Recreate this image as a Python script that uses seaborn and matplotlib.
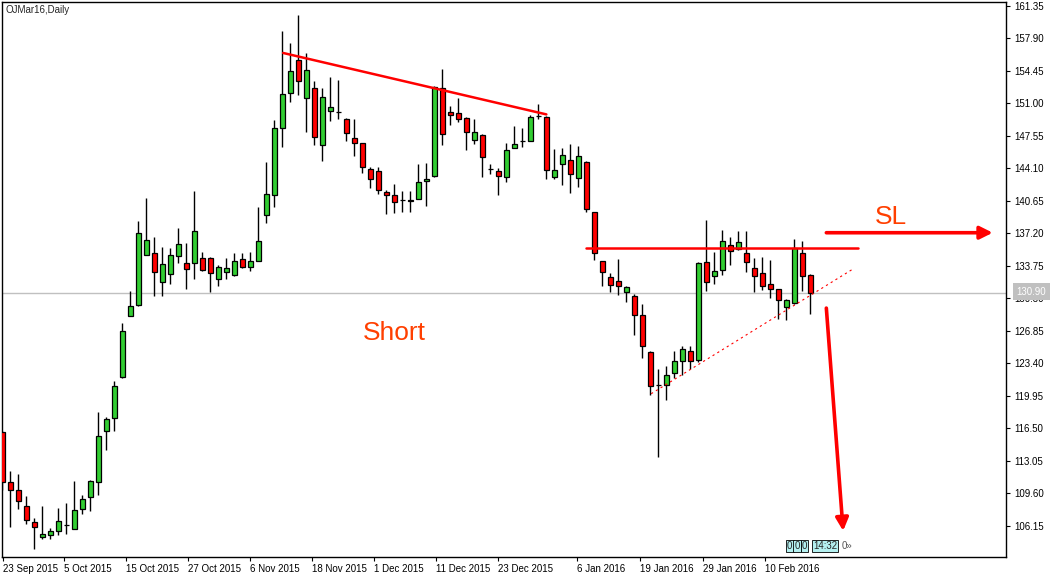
import numpy as np
import matplotlib
matplotlib.use("Agg")
import matplotlib.pyplot as plt
import seaborn as sns

# OJ Mar16 daily candles
opens = [116.10, 110.79, 109.94, 108.24, 106.55, 104.95, 105.17, 105.59, 106.18, 105.80,
         107.93, 109.20, 110.79, 116.21, 117.59, 121.94, 128.41, 129.58, 134.89, 135.10,
         132.02, 132.87, 134.78, 134.04, 134.04, 134.57, 134.57, 132.34, 133.08, 132.76,
         134.46, 133.61, 134.25, 139.13, 141.26, 148.37, 152.08, 155.59, 151.55, 152.61,
         146.56, 150.17, 150.07, 149.32, 147.31, 146.78, 144.02, 143.80, 141.57, 141.26,
         140.72, 140.70, 140.83, 142.74, 143.27, 152.61, 150.07, 149.96, 149.43, 147.09,
         147.62, 143.97, 143.80, 143.17, 146.24, 146.99, 146.99, 149.64, 149.54, 143.17,
         144.55, 144.97, 143.06, 144.76, 139.45, 134.25, 132.55, 132.13, 130.96, 130.54,
         128.52, 124.59, 121.04, 121.09, 122.36, 123.63, 124.70, 123.74, 134.14, 132.66,
         133.29, 135.95, 135.52, 135.10, 133.51, 132.98, 131.81, 131.28, 129.37, 129.79,
         135.10, 132.76]
highs = [116.20, 111.99, 111.67, 109.34, 106.97, 108.27, 105.94, 108.06, 108.59, 110.93,
         109.44, 111.03, 118.25, 117.69, 121.54, 127.67, 131.07, 138.50, 140.94, 136.80,
         135.74, 135.63, 137.75, 136.16, 141.68, 135.21, 134.67, 133.82, 134.57, 135.10,
         135.10, 135.21, 139.98, 144.76, 149.25, 158.70, 157.39, 160.39, 156.33, 153.36,
         152.61, 153.78, 153.46, 149.43, 149.32, 146.80, 144.23, 144.23, 141.79, 142.42,
         141.68, 141.68, 144.55, 144.65, 152.80, 154.63, 150.70, 151.55, 149.50, 149.32,
         147.70, 144.55, 144.12, 146.78, 148.58, 148.37, 149.75, 150.91, 149.60, 146.14,
         146.24, 146.67, 146.46, 144.90, 139.50, 134.30, 132.98, 134.46, 131.55, 130.75,
         129.69, 124.65, 122.79, 123.10, 124.70, 125.23, 125.23, 134.10, 138.60, 135.21,
         137.54, 136.80, 137.44, 137.44, 134.52, 134.67, 134.35, 131.30, 130.22, 136.59,
         136.37, 132.87]
lows = [109.97, 105.97, 107.88, 106.29, 103.68, 104.74, 104.74, 105.17, 105.27, 105.75,
        107.39, 107.67, 109.41, 114.19, 116.21, 121.83, 128.41, 129.50, 134.85, 130.49,
        130.49, 131.81, 134.04, 131.28, 132.34, 133.20, 130.96, 131.60, 132.34, 132.70,
        133.55, 133.22, 134.20, 138.28, 139.98, 146.35, 151.13, 151.87, 147.94, 146.56,
        144.87, 149.11, 149.32, 146.99, 145.40, 143.59, 142.00, 141.36, 139.24, 139.35,
        139.45, 139.45, 140.80, 140.05, 143.20, 146.56, 148.69, 149.00, 146.03, 146.67,
        143.17, 143.49, 141.26, 142.63, 146.20, 146.35, 146.95, 149.32, 142.95, 142.95,
        142.32, 141.47, 142.11, 139.45, 134.35, 131.60, 130.96, 130.64, 129.90, 126.39,
        123.95, 120.02, 113.40, 119.50, 121.83, 122.15, 122.79, 123.53, 131.02, 131.81,
        132.76, 133.82, 135.45, 133.08, 130.96, 131.17, 130.32, 128.09, 127.99, 129.70,
        131.07, 128.62]
closes = [110.79, 109.94, 108.73, 106.76, 106.02, 105.27, 105.59, 106.65, 106.18, 107.82,
          108.99, 110.90, 115.67, 117.48, 120.98, 126.82, 129.47, 137.22, 136.48, 133.08,
          133.93, 134.89, 136.05, 133.40, 137.44, 133.29, 132.98, 133.61, 133.51, 134.25,
          133.61, 134.25, 136.37, 141.36, 148.37, 151.98, 154.42, 153.36, 154.52, 147.41,
          151.66, 150.60, 150.07, 147.84, 146.78, 144.23, 142.95, 141.79, 141.26, 140.51,
          140.72, 140.65, 142.63, 142.95, 152.72, 147.73, 149.75, 149.32, 147.94, 147.94,
          145.29, 143.97, 143.27, 146.03, 146.67, 146.99, 149.54, 149.64, 143.91, 143.91,
          145.50, 143.49, 145.40, 139.77, 135.10, 133.08, 131.70, 131.60, 131.49, 128.52,
          125.23, 120.98, 121.04, 122.15, 123.63, 124.91, 123.63, 134.04, 132.02, 133.19,
          136.37, 135.31, 136.27, 134.14, 132.66, 131.60, 131.28, 130.11, 130.11, 135.63,
          132.66, 130.90]

date_labels = ["23 Sep 2015", "5 Oct 2015", "15 Oct 2015", "27 Oct 2015", "6 Nov 2015",
               "18 Nov 2015", "1 Dec 2015", "11 Dec 2015", "23 Dec 2015", "6 Jan 2016",
               "19 Jan 2016", "29 Jan 2016", "10 Feb 2016"]
date_ticks = [0.05, 7.75, 15.46, 23.21, 30.96, 38.71, 46.46, 54.21, 61.96, 71.88,
              79.71, 87.55, 95.38]

price_ticks = [161.35 - 3.45 * k for k in range(17)]
last_price = 130.90

# drawn-on analysis lines (bar index, price)
resist_x, resist_y = [35.1, 68.0], [156.33, 149.81]
sl_level_x, sl_level_y = [73.0, 107.0], [135.59, 135.59]
support_x, support_y = [81.1, 106.2], [120.16, 133.33]

sns.set_theme(style="white")
plt.rcParams["font.family"] = ["Liberation Sans", "DejaVu Sans"]

fig = plt.figure(figsize=(10.64, 5.78), dpi=100)
ax = fig.add_axes([2 / 1064, 21 / 578, 1004 / 1064, 555 / 578])

o = np.array(opens)
c = np.array(closes)
x = np.arange(len(o))
body_col = np.where(c > o, "#32cd32", np.where(c < o, "#ff0000", "black"))

ax.vlines(x, lows, highs, color="black", lw=1.0, zorder=2)
ax.bar(x, np.abs(c - o), bottom=np.minimum(o, c), width=0.6,
       color=body_col, edgecolor="black", linewidth=0.9, zorder=3)

ax.axhline(last_price, color="#c0c0c0", lw=1.0, zorder=1)

sns.lineplot(x=resist_x, y=resist_y, color="#ff0000", lw=1.8, ax=ax, zorder=4)
sns.lineplot(x=sl_level_x, y=sl_level_y, color="#ff0000", lw=1.8, ax=ax, zorder=4)
ax.plot(support_x, support_y, color="#ff0000", lw=0.8, dashes=(2, 3), zorder=4)

arrow = dict(arrowstyle="-|>", color="#ff0000", lw=2.6, mutation_scale=19,
             shrinkA=0, shrinkB=0)
ax.annotate("", xy=(123.8, 137.25), xytext=(103.0, 137.25), arrowprops=arrow, zorder=5)
ax.annotate("", xy=(105.1, 105.6), xytext=(103.0, 129.25), arrowprops=arrow, zorder=5)

ax.text(48.96, 126.64, "Short", color="#ff3f00", fontsize=19, ha="center", va="center")
ax.text(111.1, 138.95, "SL", color="#ff3f00", fontsize=19, ha="center", va="center")

ax.set_xlim(-0.05, 125.46)
ax.set_ylim(102.83, 161.74)

ax.yaxis.tick_right()
ax.set_yticks(price_ticks)
ax.set_yticklabels([f"{p:.2f}" for p in price_ticks])
ax.set_xticks(date_ticks)
ax.set_xticklabels(date_labels)
for lab in ax.get_xticklabels():
    lab.set_horizontalalignment("left")
ax.tick_params(axis="y", direction="out", length=3, width=0.8, pad=3,
               labelsize=7, colors="black", right=True, left=False)
ax.tick_params(axis="x", direction="out", length=3, width=0.8, pad=2,
               labelsize=7, colors="black", bottom=True)
for s in ax.spines.values():
    s.set_color("black")
    s.set_linewidth(1.0)
ax.grid(False)

# current price tag on the axis (covers most of the 130.30 label, as in MT4)
ax.text(1.0105, last_price + 0.1, f"{last_price:.2f}", transform=ax.get_yaxis_transform(),
        color="white", fontsize=7, va="center", ha="left", clip_on=False, zorder=10,
        bbox=dict(boxstyle="square,pad=0.35", fc="#c0c0c0", ec="none"))

fig.text(6 / 1064, 1 - 10 / 578, "OJMar16,Daily", fontsize=7, va="center", ha="left")

# small terminal status boxes near the last bar
for bx, txt in [(789.8, "0"), (797.0, "0"), (804.5, "0"), (825, "14:32")]:
    fig.text(bx / 1064, 1 - 546 / 578, txt, fontsize=7, ha="center", va="center",
             bbox=dict(boxstyle="square,pad=0.12", fc="#b4f0f0", ec="black", lw=0.6))
fig.text(842 / 1064, 1 - 546 / 578, "0\u00bb", fontsize=7, ha="left", va="center",
         color="#555555")

fig.savefig("out.png", dpi=100, facecolor="white")
